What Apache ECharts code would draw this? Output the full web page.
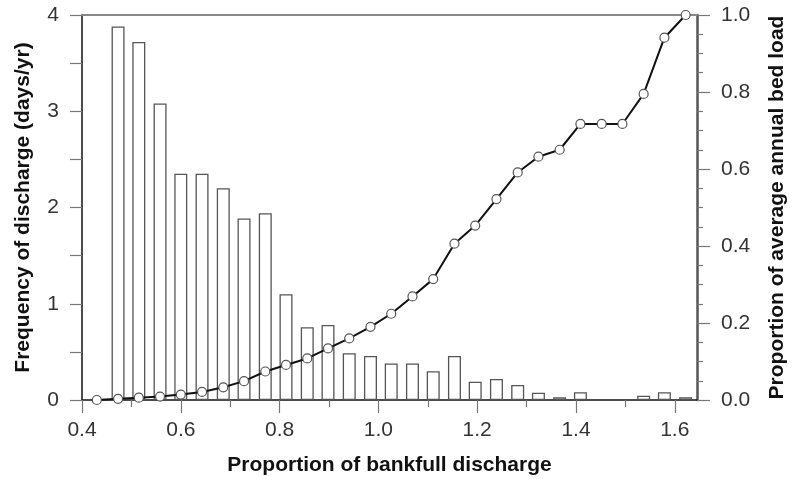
<!DOCTYPE html>
<html>
<head>
<meta charset="utf-8">
<script src="https://cdn.jsdelivr.net/npm/echarts@6/dist/echarts.min.js"></script>
<style>
  html, body { margin: 0; padding: 0; background: #fff; }
  #chart { width: 792px; height: 479px; }
</style>
</head>
<body>
<div id="chart"></div>
<script>
// Discharge classes, as proportion of bankfull discharge
const dischargeClass = [
  0.430, 0.473, 0.515, 0.558, 0.600, 0.643, 0.686, 0.728, 0.771, 0.813,
  0.856, 0.898, 0.941, 0.984, 1.026, 1.069, 1.111, 1.154, 1.196, 1.239,
  1.282, 1.324, 1.367, 1.409, 1.452, 1.494, 1.537, 1.579, 1.622
];
// Frequency of each discharge class (days/yr); null = no occurrence
const frequency = [
  null, 3.88, 3.72, 3.08, 2.35, 2.35, 2.20, 1.885, 1.94, 1.10,
  0.756, 0.78, 0.485, 0.457, 0.38, 0.38, 0.30, 0.457, 0.19, 0.218,
  0.156, 0.076, 0.028, 0.08, null, null, 0.045, 0.08, 0.028
];
// Cumulative proportion of average annual bed load
const cumulativeLoad = [
  0.0, 0.003, 0.006, 0.009, 0.014, 0.021, 0.033, 0.049, 0.074, 0.091,
  0.108, 0.134, 0.160, 0.190, 0.224, 0.269, 0.314, 0.406, 0.453, 0.522,
  0.591, 0.632, 0.650, 0.717, 0.717, 0.717, 0.795, 0.941, 1.0
];
// Axis ticks
const xMajorTicks = [0.4, 0.6, 0.8, 1.0, 1.2, 1.4, 1.6];
const xMinorTicks = [0.5, 0.7, 0.9, 1.1, 1.3, 1.5];

const FONT = '"Liberation Sans", Arial, Helvetica, sans-serif';
const X_MIN = 0.4, X_MAX = 1.645;

const barData = dischargeClass.map((x, i) => [x, frequency[i] == null ? '-' : frequency[i]]);
const lineData = dischargeClass.map((x, i) => [x, cumulativeLoad[i]]);

const chart = echarts.init(document.getElementById('chart'), null, { renderer: 'canvas' });

const titleStyle = { fontFamily: FONT, fontSize: 21, fontWeight: 'bold', color: '#111' };
const labelStyle = { fontFamily: FONT, fontSize: 21, color: '#333' };

chart.setOption({
  backgroundColor: '#fff',
  animation: false,
  grid: { left: 82, right: 95, top: 15, bottom: 79, outerBoundsMode: 'none' },
  xAxis: [
    {
      type: 'value', min: X_MIN, max: X_MAX, position: 'bottom',
      name: 'Proportion of bankfull discharge',
      nameLocation: 'middle', nameGap: 55,
      nameTextStyle: titleStyle,
      axisLine: { show: true, lineStyle: { color: '#111', width: 1.5 } },
      axisTick: { show: true, inside: false, length: 13, customValues: xMajorTicks,
                  lineStyle: { color: '#777', width: 1.2 } },
      axisLabel: Object.assign({ show: true, margin: 20, customValues: xMajorTicks,
                   formatter: v => v.toFixed(1) }, labelStyle),
      splitLine: { show: false }
    },
    {
      type: 'value', min: X_MIN, max: X_MAX, position: 'bottom',
      axisLine: { show: false },
      axisTick: { show: true, inside: false, length: 7, customValues: xMinorTicks,
                  lineStyle: { color: '#777', width: 1.2 } },
      axisLabel: { show: false },
      splitLine: { show: false }
    },
    {
      type: 'value', min: X_MIN, max: X_MAX, position: 'top',
      axisLine: { show: true, lineStyle: { color: '#888', width: 2 } },
      axisTick: { show: false },
      axisLabel: { show: false },
      splitLine: { show: false }
    }
  ],
  yAxis: [
    {
      type: 'value', min: 0, max: 4, interval: 1, position: 'left',
      name: 'Frequency of discharge (days/yr)',
      nameLocation: 'middle', nameRotate: 90, nameGap: 48,
      nameTextStyle: titleStyle,
      axisLine: { show: true, lineStyle: { color: '#111', width: 1.5 } },
      axisTick: { show: true, inside: false, length: 12, lineStyle: { color: '#777', width: 1.2 } },
      minorTick: { show: true, splitNumber: 2, length: 12, lineStyle: { color: '#777', width: 1.2 } },
      axisLabel: Object.assign({ margin: 23 }, labelStyle),
      splitLine: { show: false },
      minorSplitLine: { show: false }
    },
    {
      type: 'value', min: 0, max: 1, interval: 0.2, position: 'right',
      name: 'Proportion of average annual bed load',
      nameLocation: 'middle', nameRotate: 90, nameGap: 70,
      nameTextStyle: titleStyle,
      axisLine: { show: true, lineStyle: { color: '#555', width: 2.5 } },
      axisTick: { show: true, inside: false, length: 13, lineStyle: { color: '#777', width: 1.2 } },
      minorTick: { show: true, splitNumber: 4, length: 6, lineStyle: { color: '#777', width: 1.2 } },
      axisLabel: Object.assign({ margin: 24, formatter: v => v.toFixed(1) }, labelStyle),
      splitLine: { show: false },
      minorSplitLine: { show: false }
    }
  ],
  series: [
    {
      name: 'Frequency',
      type: 'bar',
      xAxisIndex: 0, yAxisIndex: 0,
      data: barData,
      barWidth: 13,
      itemStyle: { color: '#fff', borderColor: '#555', borderWidth: 1.3 },
      z: 2
    },
    {
      name: 'Bed load',
      type: 'line',
      xAxisIndex: 0, yAxisIndex: 1,
      data: lineData,
      symbol: 'circle',
      symbolSize: 9,
      showAllSymbol: true,
      lineStyle: { color: '#111', width: 2 },
      itemStyle: { color: '#fff', borderColor: '#555', borderWidth: 1.2 },
      z: 5
    }
  ]
});
</script>
</body>
</html>
